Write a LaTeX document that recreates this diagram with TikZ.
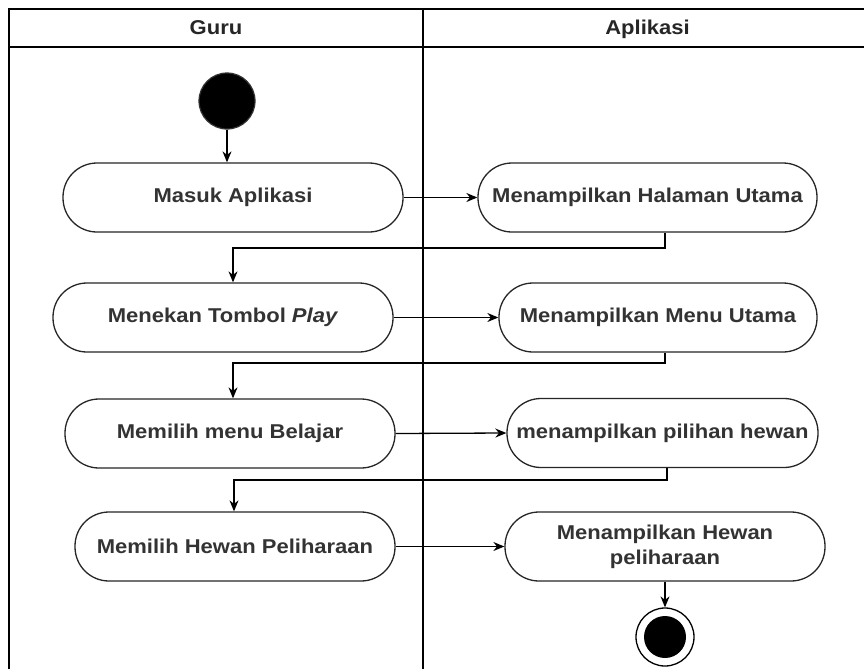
\documentclass[tikz,border=0pt]{standalone}
\usepackage{fontspec}
\setmainfont{Liberation Sans}[FakeStretch=1.1]
\usetikzlibrary{arrows.meta}
\begin{document}
\begin{tikzpicture}[x=1pt,y=-1pt,
  lane/.style={line width=1.5pt, draw=black},
  header/.style={font=\fontsize{20}{22}\selectfont\bfseries, text=black!85, anchor=base, inner sep=0pt},
  act/.style={draw=black!85, line width=1.3pt, rounded corners=34pt,
    minimum height=69pt, inner sep=2pt, align=center,
    font=\fontsize{20}{25}\selectfont\bfseries, text=black!80},
  flow/.style={line width=1.3pt, draw=black, -{Stealth[length=11pt,width=9pt]}},
  startnode/.style={circle, fill=black, draw=black!80, line width=1.2pt, minimum size=56pt, inner sep=0pt},
  endring/.style={circle, draw=black, line width=1.3pt, fill=white, minimum size=58pt, inner sep=0pt},
  enddot/.style={circle, fill=black, minimum size=42pt, inner sep=0pt}]
\useasboundingbox (0,0) rectangle (864,669);
\fill[white] (0,0) rectangle (864,669);

% swimlanes
\draw[lane] (9,669) -- (9,9) -- (864,9);
\draw[lane] (9,47) -- (864,47);
\draw[lane] (423,9) -- (423,669);
\node[header] (hguru) at (216,35) {Guru};
\node[header] (happ) at (647.5,35) {Aplikasi};

% activities
\node[startnode] (start) at (227,101) {};
\node[act, minimum width=340pt] (A) at (233,197.5) {Masuk Aplikasi};
\node[act, minimum width=339pt] (B) at (647.5,197.5) {Menampilkan Halaman Utama};
\node[act, minimum width=340pt] (C) at (223,317.5) {Menekan Tombol \textit{Play}};
\node[act, minimum width=318pt] (D) at (658,317.5) {Menampilkan Menu Utama};
\node[act, minimum width=330pt] (E) at (230,433.5) {Memilih menu Belajar};
\node[act, minimum width=311pt] (F) at (662.5,433) {menampilkan pilihan hewan};
\node[act, minimum width=320pt] (G) at (235,546.5) {Memilih Hewan Peliharaan};
\node[act, minimum width=320pt] (H) at (665,546.5) {Menampilkan Hewan\\peliharaan};
\node[endring] (stop) at (665,637) {};
\node[enddot] (stopdot) at (stop) {};

% turning points of the return flows
\coordinate (r1) at (665,248);
\coordinate (l1) at (233,248);
\coordinate (r2) at (665,363);
\coordinate (l2) at (233,363);
\coordinate (r3) at (667,480);
\coordinate (l3) at (234,480);

% flows
\draw[flow] (start) -- (start |- A.north);
\draw[flow] (A.east) -- (B.west);
\draw[flow] (B.south -| r1) -- (r1) -- (l1) -- (C.north -| l1);
\draw[flow] (C.east) -- (D.west);
\draw[flow] (D.south -| r2) -- (r2) -- (l2) -- (E.north -| l2);
\draw[flow] (E.east) -- (F.west);
\draw[flow] (F.south -| r3) -- (r3) -- (l3) -- (G.north -| l3);
\draw[flow] (G.east) -- (H.west);
\draw[flow] (H.south) -- (stop.north);
\end{tikzpicture}
\end{document}
